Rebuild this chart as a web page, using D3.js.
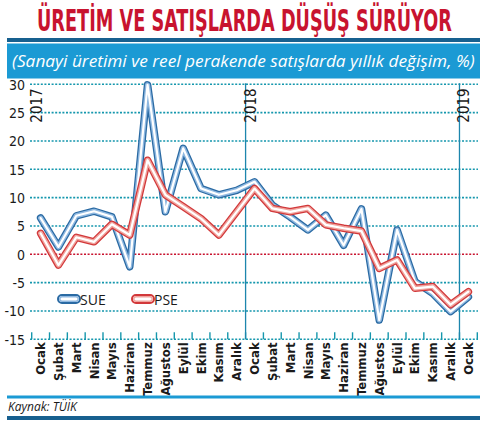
<!DOCTYPE html>
<html><head><meta charset="utf-8">
<script src="https://cdn.jsdelivr.net/npm/d3@7"></script>
<style>
html,body{margin:0;padding:0;background:#fff;}
svg{display:block;}
</style></head>
<body>
<svg id="c" width="486" height="425"></svg>
<script>
const title = "ÜRETİM VE SATIŞLARDA DÜŞÜŞ SÜRÜYOR";
const subtitle = "(Sanayi üretimi ve reel perakende satışlarda yıllık değişim, %)";
const source = "Kaynak: TÜİK";
const months = ["Ocak","Şubat","Mart","Nisan","Mayıs","Haziran","Temmuz","Ağustos","Eylül","Ekim","Kasım","Aralık",
                "Ocak","Şubat","Mart","Nisan","Mayıs","Haziran","Temmuz","Ağustos","Eylül","Ekim","Kasım","Aralık","Ocak"];
const sue = [6.4,1.3,6.8,7.6,6.6,-2.2,29.9,7.5,18.7,11.6,10.5,11.3,12.8,8.7,6.6,4.3,6.9,1.6,8.0,-11.6,4.3,-4.8,-6.9,-10.1,-7.5];
const pse = [3.7,-1.9,3.0,2.2,5.3,3.4,16.6,10.5,8.4,6.3,3.4,7.5,11.6,8.1,7.5,8.1,5.2,4.6,4.1,-2.5,-1.0,-6.0,-5.7,-8.9,-6.6];
const yTicks = [30,25,20,15,10,5,0,-5,-10,-15];
const years = [{label:"2017", index:0},{label:"2018", index:12},{label:"2019", index:24}];
const seriesNames = ["SUE","PSE"];

const svg = d3.select("#c");
const narrow = "'Liberation Sans Narrow','DejaVu Sans Condensed',sans-serif";

// Header
const tt = svg.append("text").attr("x",0).attr("y",0)
  .attr("font-family",narrow).attr("font-weight","bold").attr("font-size",30).attr("fill","#c8132f").text(title);
const tw = tt.node().getComputedTextLength();
tt.attr("transform",`translate(37,31) scale(${415/tw},1)`);
svg.append("rect").attr("x",7).attr("y",38).attr("width",473).attr("height",4).attr("fill","#17608f");
svg.append("rect").attr("x",7).attr("y",43.5).attr("width",473).attr("height",35).attr("fill","#1b9ad4");
const st = svg.append("text").attr("x",0).attr("y",0)
  .attr("font-family","'Open Sans',sans-serif").attr("font-style","italic").attr("font-size",17).attr("fill","#fff").text(subtitle);
const sw = st.node().getComputedTextLength();
st.attr("transform",`translate(12,67) scale(${463/sw},1)`);

// Scales
const x = d3.scaleBand().domain(d3.range(months.length)).range([31.7,477.3]).padding(0);
const y = d3.scaleLinear().domain([-15,30]).range([339.3,84.3]);
const cx = i => x(i) + x.bandwidth()/2;

// Gridlines
const teal = "#1597ad";
svg.append("g").selectAll("line").data(yTicks).join("line")
  .attr("x1",30).attr("x2",478).attr("y1",d=>y(d)).attr("y2",d=>y(d))
  .attr("stroke",d=>d===0?"#c8132f":teal).attr("stroke-width",1.6).attr("stroke-dasharray","2,1.6");

// Bottom tick marks
svg.append("g").selectAll("line").data(d3.range(months.length+1)).join("line")
  .attr("x1",i=>x.range()[0]+i*x.bandwidth()).attr("x2",i=>x.range()[0]+i*x.bandwidth())
  .attr("y1",y(-15)-7).attr("y2",y(-15)).attr("stroke",teal).attr("stroke-width",1.4);

// Year lines
years.filter(d=>d.index>0).forEach(d=>{
  svg.append("line").attr("x1",x(d.index)).attr("x2",x(d.index)).attr("y1",y(30)-1).attr("y2",y(-15))
    .attr("stroke","#1d86ad").attr("stroke-width",1.3);
});
years.forEach(d=>{
  const xx = x(d.index) + 10;
  svg.append("text").attr("transform",`translate(${xx},${y(30)+4}) rotate(-90)`)
    .attr("text-anchor","end").attr("font-family",narrow).attr("font-size",15).attr("fill","#1a1a1a").text(d.label);
});

// Y axis labels
const yAxis = d3.axisLeft(y).tickValues(yTicks).tickFormat(d=>String(d)).tickSize(0).tickPadding(0);
const ya = svg.append("g").attr("transform","translate(25,0)").call(yAxis);
ya.select(".domain").remove();
ya.selectAll("text").attr("font-family",narrow).attr("font-size",14).attr("fill","#1a1a1a").attr("dy","0.35em");

// X axis labels
const xAxis = d3.axisBottom(x).tickFormat(i=>months[i]).tickSize(0).tickPadding(0);
const xa = svg.append("g").attr("transform",`translate(0,${y(-15)+3})`).call(xAxis);
xa.select(".domain").remove();
xa.selectAll("text").attr("font-family",narrow).attr("font-size",13).attr("font-weight","bold").attr("fill","#1a1a1a")
  .attr("transform","rotate(-90)").attr("text-anchor","end").attr("x",0).attr("y",0).attr("dy","0.35em").attr("dx","0");

// Lines (tube style)
const line = d3.line().x((d,i)=>cx(i)).y(d=>y(d)).curve(d3.curveLinear);
function tube(data, outer, mid){
  const g = svg.append("g").attr("fill","none").attr("stroke-linejoin","round").attr("stroke-linecap","round");
  g.append("path").attr("d",line(data)).attr("stroke",outer).attr("stroke-width",7.5);
  g.append("path").attr("d",line(data)).attr("stroke",mid).attr("stroke-width",5);
  g.append("path").attr("d",line(data)).attr("stroke","#fff").attr("stroke-width",2.2);
}
tube(sue,"#2a6aa3","#8fb8e0");
tube(pse,"#d2383a","#f0a39d");

// Legend
const legend = [{name:seriesNames[0],x:58,outer:"#2a6aa3",mid:"#8fb8e0"},{name:seriesNames[1],x:132,outer:"#d2383a",mid:"#f0a39d"}];
legend.forEach(l=>{
  const g = svg.append("g");
  g.append("rect").attr("x",l.x).attr("y",295).attr("width",22).attr("height",8).attr("rx",4)
    .attr("fill","#fff").attr("stroke",l.outer).attr("stroke-width",2);
  g.append("rect").attr("x",l.x+1.8).attr("y",296.8).attr("width",18.4).attr("height",4.4).attr("rx",2.2)
    .attr("fill","#fff").attr("stroke",l.mid).attr("stroke-width",1.4);
  g.append("text").attr("x",l.x+22).attr("y",305).attr("font-family","'Open Sans',sans-serif").attr("font-size",14)
    .attr("fill","#1a1a1a").text(l.name);
});

// Footer
svg.append("rect").attr("x",7).attr("y",395.5).attr("width",473).attr("height",3).attr("fill","#1b9ad4");
svg.append("text").attr("x",8).attr("y",411).attr("font-family","'Open Sans',sans-serif").attr("font-style","italic")
  .attr("font-size",12).attr("fill","#1a1a1a").text(source);
svg.append("rect").attr("x",7).attr("y",416).attr("width",473).attr("height",4).attr("fill","#17608f");
</script>
</body></html>
